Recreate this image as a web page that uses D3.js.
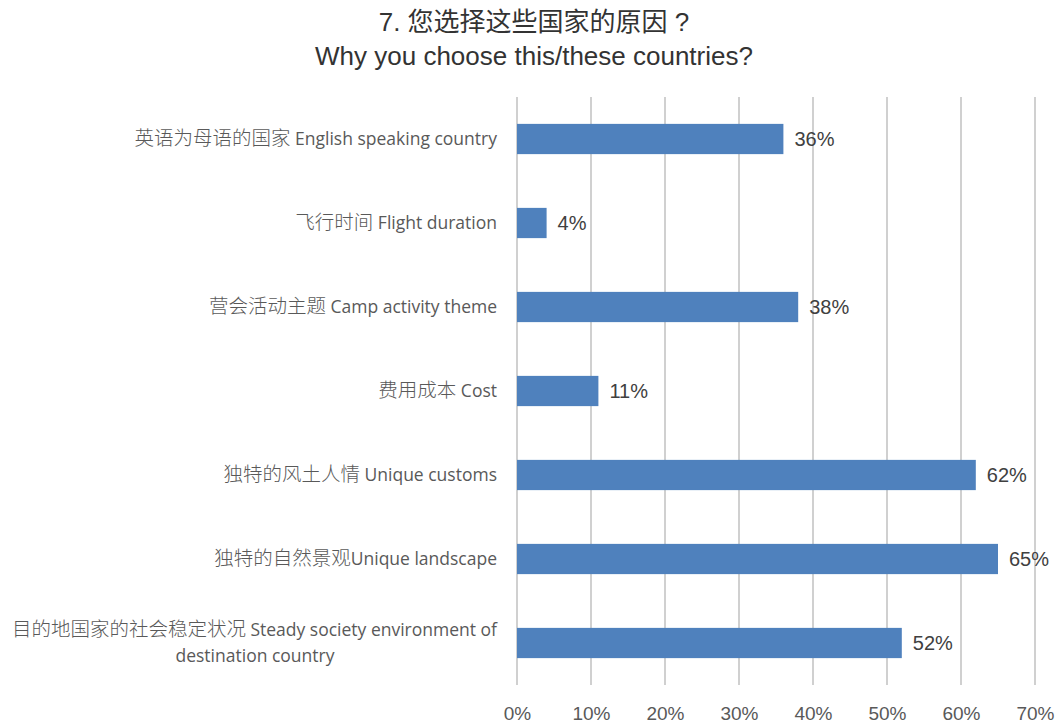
<!DOCTYPE html>
<html>
<head>
<meta charset="utf-8">
<script src="https://cdn.jsdelivr.net/npm/d3@7"></script>
<style>
  body { margin: 0; background: #fff; }
  svg { display: block; }
</style>
</head>
<body>
<svg id="chart" width="1064" height="724"></svg>
<script>
// Reasons for choosing the destination countries (share of respondents)
// Each category: [Chinese part, English part, optional second English line]
const categories = [
  ["英语为母语的国家", " English speaking country"],
  ["飞行时间", " Flight duration"],
  ["营会活动主题", " Camp activity theme"],
  ["费用成本", " Cost"],
  ["独特的风土人情", " Unique customs"],
  ["独特的自然景观", "Unique landscape"],
  ["目的地国家的社会稳定状况", " Steady society environment of", "destination country"]
];
const values = [36, 4, 38, 11, 62, 65, 52];
const tickValues = [0, 10, 20, 30, 40, 50, 60, 70];
const titleLines = ["7. 您选择这些国家的原因 ?", "Why you choose this/these countries?"];

const svg = d3.select("#chart");
const margin = { left: 517, right: 29, top: 97, bottom: 39 };
const W = 1064, H = 724;

const x = d3.scaleLinear().domain([0, 70]).range([margin.left, W - margin.right]);
const y = d3.scaleBand().domain(d3.range(categories.length))
  .range([margin.top, H - margin.bottom]).paddingInner(0.64).paddingOuter(0.32);

// Title
svg.append("g").selectAll("text").data(titleLines).join("text")
  .attr("x", 534).attr("y", (d, i) => 31 + i * 34)
  .attr("text-anchor", "middle")
  .attr("font-family", "'Liberation Sans', Arial, 'Noto Sans CJK SC', sans-serif")
  .attr("font-size", 26).attr("fill", "#333")
  .text(d => d);

// Vertical gridlines
svg.append("g").selectAll("line").data(tickValues).join("line")
  .attr("x1", d => x(d)).attr("x2", d => x(d))
  .attr("y1", margin.top).attr("y2", H - margin.bottom)
  .attr("stroke", "#c0c0c0").attr("stroke-width", 1.5);

// X axis tick labels
const xAxis = d3.axisBottom(x).tickValues(tickValues).tickSize(0).tickPadding(0)
  .tickFormat(d => d + "%");
const gx = svg.append("g").attr("transform", `translate(0,${H - margin.bottom})`).call(xAxis);
gx.select(".domain").remove();
gx.selectAll("text")
  .attr("y", 0).attr("dy", 35)
  .attr("font-family", "'Liberation Sans', Arial, sans-serif")
  .attr("font-size", 19).attr("fill", "#595959");

// Bars
svg.append("g").selectAll("rect").data(values).join("rect")
  .attr("x", x(0)).attr("y", (d, i) => y(i))
  .attr("width", d => x(d) - x(0)).attr("height", y.bandwidth())
  .attr("fill", "#4f81bd");

// Value labels
svg.append("g").selectAll("text").data(values).join("text")
  .attr("x", d => x(d) + 11).attr("y", (d, i) => y(i) + y.bandwidth() / 2)
  .attr("dy", "0.36em")
  .attr("font-family", "'Liberation Sans', Arial, sans-serif")
  .attr("font-size", 20).attr("fill", "#404040")
  .text(d => d + "%");

// Category labels (right-aligned; wrapped labels centred under their first line)
const cjkFont = "'Noto Sans CJK SC', sans-serif";
const latinFont = "'Open Sans', 'Noto Sans', sans-serif";
const catG = svg.append("g");
categories.forEach((parts, i) => {
  const cy = y(i) + y.bandwidth() / 2;
  const lh = 25;
  const nLines = parts.length > 2 ? 2 : 1;
  const y0 = cy - (nLines - 1) * lh / 2;
  const t0 = catG.append("text")
    .attr("x", 497).attr("y", y0).attr("dy", "0.36em")
    .attr("text-anchor", "end").attr("fill", "#595959");
  t0.append("tspan").attr("font-family", cjkFont).attr("font-size", 19.5)
    .attr("font-weight", 300).text(parts[0]);
  t0.append("tspan").attr("font-family", latinFont).attr("font-size", 17.5).text(parts[1]);
  if (parts.length > 2) {
    const bb = t0.node().getBBox();
    const mid = bb.x + bb.width / 2;
    catG.append("text")
      .attr("x", mid).attr("y", y0 + lh).attr("dy", "0.36em")
      .attr("text-anchor", "middle")
      .attr("font-family", latinFont).attr("font-size", 17.5).attr("fill", "#595959")
      .text(parts[2]);
  }
});
</script>
</body>
</html>
